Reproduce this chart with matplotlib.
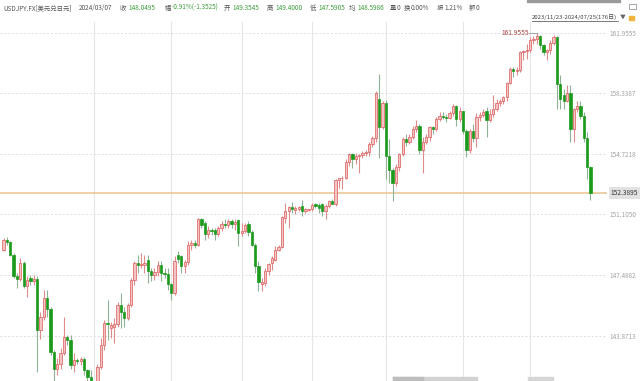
import numpy as np
import pandas as pd
import matplotlib
matplotlib.use("Agg")
import matplotlib.pyplot as plt
from matplotlib.lines import Line2D
from matplotlib.patches import Rectangle

plt.rcParams['font.family'] = ['Noto Sans CJK SC', 'DejaVu Sans']

# USDJPY daily candles, 2023/11/23 - 2024/07/25 (176 trading days)
dates = pd.bdate_range('2023-11-23', '2024-07-25')

open_ = [149.0, 149.6, 149.45, 148.7, 147.45, 147.25, 148.2, 146.8, 147.3, 147.15,
         147.25, 144.2, 144.95, 146.1, 145.45, 142.9, 141.9, 142.2, 142.8, 143.8,
         143.6, 142.1, 142.4, 142.35, 142.45, 141.8, 141.4, 141.0, 140.95, 142.0,
         143.3, 144.6, 144.3, 144.35, 144.55, 145.7, 145.3, 144.9, 145.7, 147.2,
         148.2, 148.1, 148.1, 148.4, 147.7, 147.5, 147.65, 148.1, 147.6, 147.55,
         146.95, 146.4, 148.7, 148.6, 148.0, 148.25, 149.3, 149.4, 149.3, 150.8,
         150.6, 149.95, 150.2, 150.15, 149.95, 150.3, 150.55, 150.5, 150.7, 150.55,
         150.75, 150.0, 150.1, 150.55, 150.05, 149.3, 148.05, 146.95, 147.0, 147.7,
         148.2, 148.4, 149.0, 149.15, 150.9, 151.3, 151.55, 151.35, 151.45, 151.6,
         151.3, 151.35, 151.4, 151.7, 151.65, 151.75, 151.3, 151.6, 151.9, 151.75,
         153.15, 153.25, 153.3, 154.25, 154.7, 154.4, 154.6, 154.65, 154.8, 154.85,
         155.3, 155.65, 158.0, 156.35, 157.75, 154.6, 153.75, 152.95, 153.95, 154.7,
         155.6, 155.45, 155.75, 156.2, 156.4, 154.95, 155.45, 155.7, 156.3, 156.2,
         156.8, 157.0, 156.95, 156.85, 157.15, 157.6, 156.8, 157.25, 156.1, 154.95,
         156.1, 155.65, 156.9, 157.05, 157.25, 156.75, 157.1, 157.4, 157.75, 157.85,
         158.1, 158.95, 159.8, 159.65, 159.75, 160.8, 160.85, 160.95, 161.5, 161.6,
         161.75, 161.2, 160.8, 160.9, 161.35, 161.7, 158.9, 158.25, 157.9, 158.35,
         156.2, 157.4, 157.55, 157.0, 155.65, 153.95]

high = [149.7, 149.75, 149.5, 148.8, 147.6, 148.5, 148.3, 147.45, 147.5, 147.5,
        147.4, 145.3, 146.6, 146.6, 145.6, 143.0, 142.5, 143.1, 144.96, 143.9,
        143.9, 142.8, 142.5, 142.6, 142.6, 141.9, 141.8, 141.1, 142.2, 143.7,
        144.8, 146.0, 144.7, 144.9, 145.9, 146.4, 145.6, 145.8, 147.3, 148.3,
        148.7, 148.8, 148.7, 148.7, 147.9, 147.9, 148.3, 148.3, 147.9, 147.9,
        147.0, 148.6, 148.9, 148.7, 148.4, 149.5, 149.6, 149.6, 150.9, 150.9,
        150.7, 150.4, 150.3, 150.3, 150.4, 150.7, 150.8, 150.85, 150.8, 150.85,
        150.85, 150.6, 150.6, 150.7, 150.2, 149.4, 148.3, 147.3, 147.9, 148.2,
        148.6, 149.2, 149.3, 151.0, 151.8, 151.6, 151.85, 151.6, 151.6, 151.97,
        151.5, 151.45, 151.8, 151.8, 151.8, 151.8, 151.7, 151.95, 152.0, 153.2,
        153.3, 153.4, 154.4, 154.8, 154.75, 154.75, 154.7, 154.9, 154.95, 155.4,
        155.8, 158.45, 159.5, 157.85, 157.95, 155.6, 153.9, 154.1, 154.8, 155.7,
        155.9, 155.9, 156.4, 156.75, 156.5, 155.7, 155.9, 156.4, 156.4, 156.9,
        157.2, 157.2, 157.1, 157.3, 157.7, 157.65, 157.5, 157.3, 156.2, 156.2,
        156.5, 157.15, 157.2, 157.4, 157.5, 157.4, 158.25, 158.0, 158.0, 158.2,
        159.0, 159.9, 159.9, 159.9, 160.85, 160.9, 161.3, 161.7, 161.75, 161.9555,
        161.8, 161.3, 161.0, 161.5, 161.8, 161.75, 159.4, 158.6, 158.85, 158.85,
        157.45, 157.85, 157.85, 157.2, 156.0, 154.0]

low = [148.9, 149.3, 148.6, 147.3, 146.7, 147.1, 146.7, 146.2, 146.9, 146.9,
       141.7, 143.65, 144.8, 145.0, 142.7, 140.97, 141.5, 141.9, 142.7, 143.3,
       141.9, 141.7, 142.2, 142.1, 141.5, 140.25, 140.9, 140.9, 140.8, 141.9,
       143.0, 143.6, 143.7, 143.4, 144.4, 144.3, 144.4, 144.8, 145.6, 146.9,
       147.6, 147.9, 147.6, 146.98, 147.1, 147.2, 147.4, 147.1, 147.3, 146.6,
       146.0, 146.3, 148.2, 147.6, 147.6, 148.1, 149.0, 149.1, 149.2, 150.3,
       149.6, 149.7, 149.9, 149.6, 149.8, 150.1, 150.3, 150.3, 150.3, 150.2,
       149.2, 149.8, 150.0, 149.8, 149.2, 147.6, 146.5, 146.5, 146.8, 147.5,
       147.8, 148.3, 148.9, 149.1, 150.6, 150.3, 151.2, 151.1, 151.3, 151.0,
       151.2, 151.3, 151.3, 151.5, 151.2, 151.0, 150.8, 151.5, 151.7, 151.6,
       152.7, 152.6, 153.2, 154.0, 153.9, 154.1, 153.6, 154.5, 154.6, 154.6,
       155.1, 155.4, 154.5, 156.2, 153.2, 152.95, 151.9, 152.8, 153.7, 154.6,
       155.2, 155.3, 155.6, 156.0, 154.7, 153.6, 155.3, 155.5, 155.9, 156.1,
       156.7, 156.8, 156.6, 156.8, 157.0, 156.4, 156.6, 155.9, 154.55, 154.8,
       155.4, 155.1, 156.7, 156.9, 155.75, 156.6, 156.9, 157.3, 157.6, 157.7,
       157.9, 158.9, 159.3, 159.4, 159.6, 160.3, 160.4, 160.8, 161.3, 161.3,
       161.0, 160.6, 160.3, 160.7, 161.2, 157.4, 157.4, 157.4, 157.8, 155.4,
       155.4, 157.2, 156.8, 155.4, 153.2, 151.95]

close = [149.6, 149.45, 148.7, 147.45, 147.25, 148.2, 146.8, 147.2, 147.15, 147.25,
         144.2, 144.95, 146.1, 145.45, 142.9, 141.9, 142.2, 142.8, 143.8, 143.6,
         142.1, 142.4, 142.35, 142.45, 141.8, 141.4, 141.0, 140.95, 142.0, 143.3,
         144.6, 144.55, 144.5, 144.55, 145.7, 145.3, 144.9, 145.7, 147.2, 148.2,
         148.1, 148.15, 148.2, 147.7, 147.5, 147.65, 148.1, 147.6, 147.55, 146.95,
         146.4, 148.3, 148.45, 148.0, 148.25, 149.3, 149.4, 149.3, 150.8, 150.5,
         149.95, 150.2, 150.1, 149.95, 150.3, 150.55, 150.5, 150.7, 150.55, 150.65,
         150.0, 150.1, 150.5, 150.05, 149.3, 148.05, 147.05, 147.05, 147.7, 148.15,
         148.5, 149.0, 149.15, 150.95, 151.3, 151.55, 151.4, 151.5, 151.55, 151.3,
         151.4, 151.4, 151.65, 151.6, 151.5, 151.3, 151.6, 151.9, 151.75, 153.15,
         153.25, 153.3, 154.25, 154.7, 154.4, 154.6, 154.65, 154.8, 154.85, 155.3,
         155.65, 158.35, 156.35, 157.75, 154.6, 153.75, 152.95, 153.95, 154.7, 155.6,
         155.45, 155.75, 156.2, 156.4, 154.95, 155.45, 155.7, 156.3, 156.2, 156.8,
         157.0, 156.95, 156.85, 157.15, 157.6, 156.8, 157.25, 156.1, 154.95, 156.1,
         155.65, 156.9, 157.05, 157.2, 156.75, 157.1, 157.4, 157.75, 157.85, 158.1,
         158.95, 159.8, 159.65, 159.75, 160.8, 160.85, 160.95, 161.5, 161.6, 161.75,
         161.2, 160.8, 160.9, 161.35, 161.7, 158.9, 158.0, 157.9, 158.35, 156.2,
         157.4, 157.55, 157.0, 155.65, 153.95, 152.3895]

yticks = [161.9555, 158.3387, 154.7218, 151.1050, 147.4882, 143.8713]

W, H = 640, 381
fig = plt.figure(figsize=(W / 100, H / 100), dpi=100)
ax = fig.add_axes([0, 0, 607 / W, 359 / H])

o = np.array(open_); h = np.array(high); l = np.array(low); c = np.array(close)
x = np.arange(len(c))
up = c >= o
dn = ~up

# grid
month_start = [i for i in range(1, len(dates)) if dates[i].month != dates[i - 1].month][1:]
for i in month_start:
    ax.axvline(i, color='#e6e6e6', lw=0.8, zorder=0)
for v in yticks:
    ax.axhline(v, color='#dedede', lw=0.7, ls=(0, (2, 2)), zorder=0)

# candles
ax.vlines(x[up], l[up], h[up], color='#e08c8c', lw=0.8, zorder=2)
ax.vlines(x[dn], l[dn], h[dn], color='#8fb394', lw=0.8, zorder=2)
body = np.maximum(np.abs(c - o), 0.04)
ax.bar(x[up], body[up], bottom=np.minimum(o, c)[up], width=0.68,
       facecolor='#f3c4c4', edgecolor='#dc5a5a', lw=0.5, zorder=3)
ax.bar(x[dn], body[dn], bottom=np.minimum(o, c)[dn], width=0.68,
       facecolor='#1c9a1c', edgecolor='#1c9a1c', lw=0.5, zorder=3)

# last price line
last = close[-1]
ax.axhline(last, color='#e8c490', lw=1.1, zorder=1)

ax.set_xlim(-1.06, 179.92)
ax.set_ylim(141.155, 162.594)
for s in ax.spines.values():
    s.set_visible(False)
ax.set_xticks([])
ax.yaxis.tick_right()
ax.set_yticks(yticks)
ax.set_yticklabels([f'{v:.4f}' for v in yticks])
ax.tick_params(axis='y', length=0, pad=2, labelsize=4.6, labelcolor='#a3a3a3')
ax.text(1.006, last, f'{last:.4f}', transform=ax.get_yaxis_transform(),
        ha='left', va='center', fontsize=4.8, color='#333333', clip_on=False,
        bbox=dict(boxstyle='square,pad=0.3', fc='#e2e2e2', ec='none'))

# highest point marker
hi = int(np.argmax(h))
ax.plot([hi - 2.3, hi], [h[hi], h[hi]], color='#999999', lw=0.6, zorder=4)
ax.text(hi - 2.4, h[hi], f'{h[hi]:.4f}', ha='right', va='center',
        fontsize=4.8, color='#a8443e', zorder=4)

# header line
def ft(px, py, s, color, size=4.6, **kw):
    fig.text(px / W, 1 - py / H, s, color=color, fontsize=size, va='center', **kw)

green = '#3d9c3d'
grey = '#555555'
ft(3, 8, 'USDJPY.FX[美元兑日元]', grey)
ft(79, 8, '2024/03/07', grey)
ft(120, 8, '收', grey); ft(128, 8, '148.0495', green)
ft(165, 8, '幅', grey); ft(172, 8, '-0.91%(-1.3525)', green)
ft(224, 8, '开', grey); ft(232, 8, '149.3545', green)
ft(267, 8, '高', grey); ft(275, 8, '149.4000', green)
ft(310, 8, '低', grey); ft(318, 8, '147.5905', green)
ft(349, 8, '均', grey); ft(357, 8, '148.5986', green)
ft(390, 8, '量', grey); ft(397, 8, '0', grey)
ft(404, 8, '换', grey); ft(411, 8, '0.00%', grey)
ft(437, 8, '振', grey); ft(444, 8, '1.21%', grey)
ft(469, 8, '额', grey); ft(476, 8, '0', grey)

# date range selector
ft(532, 17, '2023/11/23-2024/07/25(176日)', '#444444', size=4.35)
fig.add_artist(Line2D([532 / W, 618 / W], [1 - 21 / H, 1 - 21 / H],
                      color='#444444', lw=0.5))
ft(620, 17, '▼', '#666666', size=4.2)
fig.add_artist(Rectangle((629 / W, 1 - 20 / H), 5 / W, 4 / H, color='#f0b23a'))
fig.add_artist(Rectangle((629 / W, 1 - 9 / H), 7 / W, 5 / H, fill=False,
                         ec='#999999', lw=0.6))
fig.add_artist(Rectangle((527 / W, 1 - 1.5 / H), 93 / W, 1.5 / H, color='#9a9a9a'))

# bottom scroll bars
fig.add_artist(Rectangle((393 / W, 0), 84 / W, 4 / H, color='#d2d2d2'))
fig.add_artist(Rectangle((393 / W, 0), 30 / W, 4 / H, color='#bdbdbd'))
fig.add_artist(Rectangle((528 / W, 0), 25 / W, 4 / H, color='#d6d6d6'))

fig.savefig('out.png', dpi=100, facecolor='white')
